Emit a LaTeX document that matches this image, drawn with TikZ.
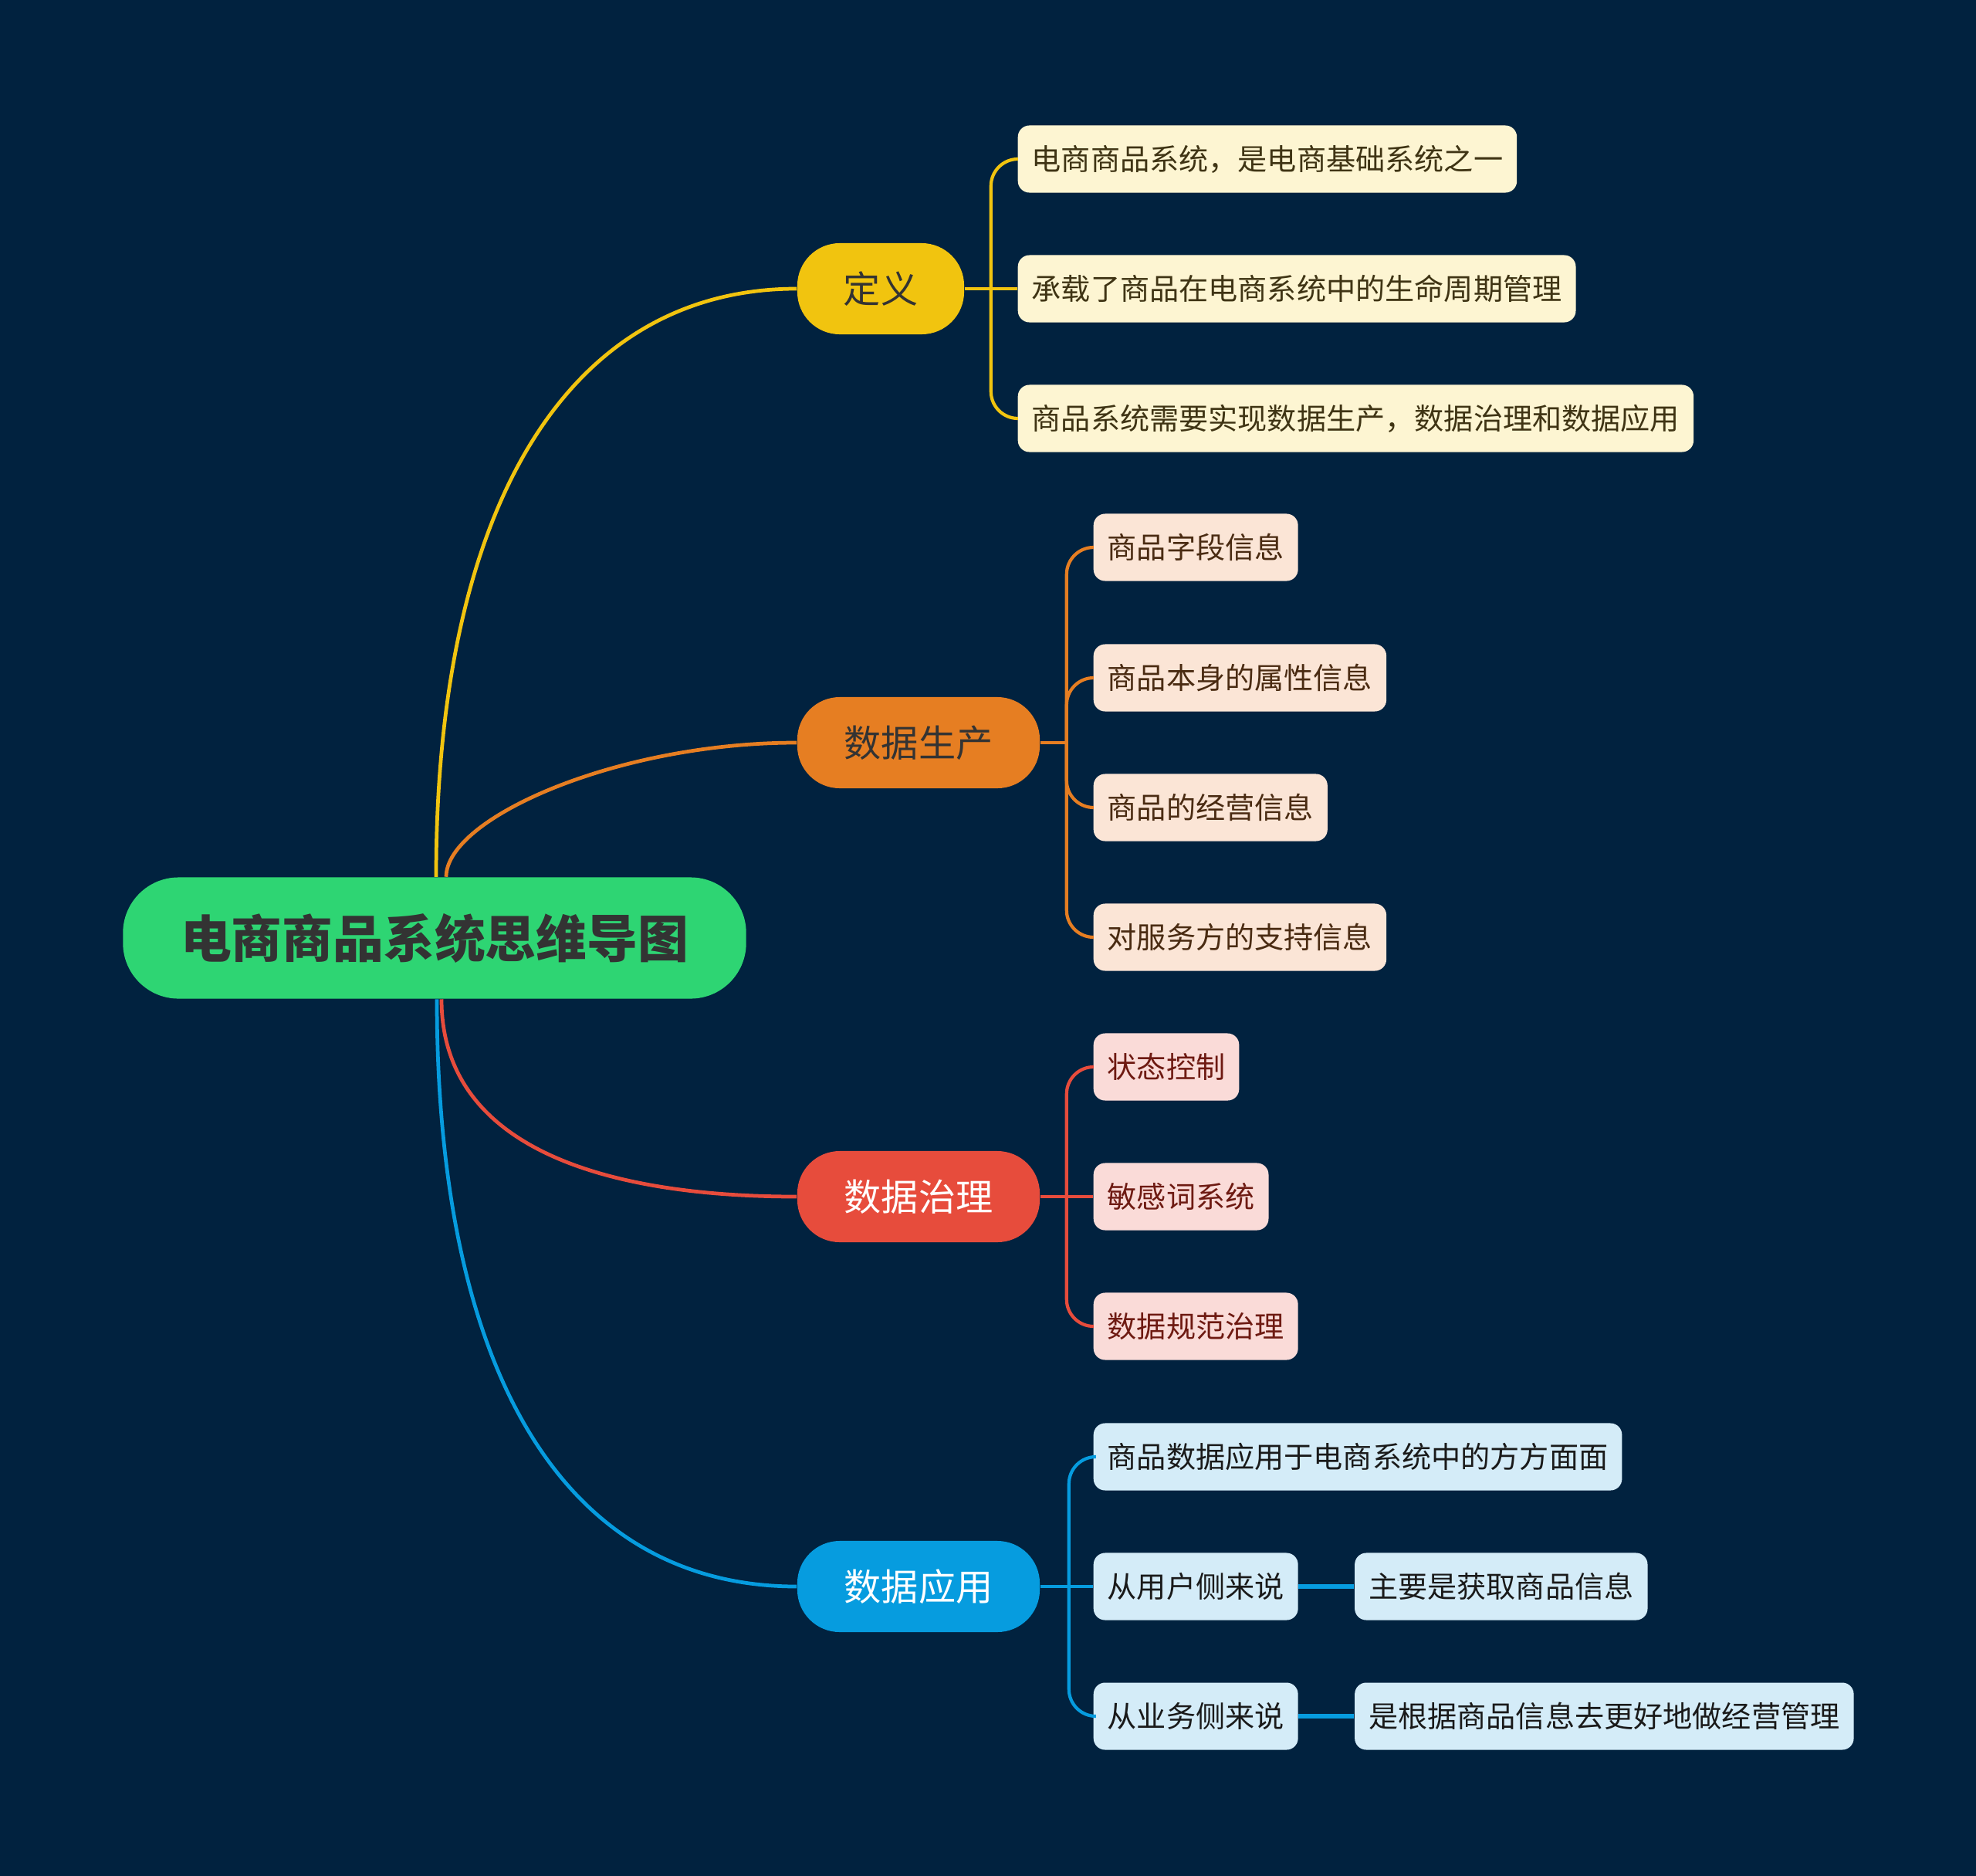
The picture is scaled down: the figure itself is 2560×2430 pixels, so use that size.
\documentclass[tikz,border=0pt]{standalone}
\usepackage{fontspec}
\setmainfont{Noto Sans CJK SC}
\usetikzlibrary{positioning}
\definecolor{bgnavy}{HTML}{01223F}
\definecolor{rootgreen}{HTML}{2ED573}
\definecolor{roottext}{HTML}{333333}
\definecolor{defyellow}{HTML}{F1C40F}
\definecolor{prodorange}{HTML}{E67E22}
\definecolor{govred}{HTML}{E74C3C}
\definecolor{appblue}{HTML}{069CDF}
\definecolor{defleaf}{HTML}{FDF5D2}
\definecolor{prodleaf}{HTML}{FBE5D6}
\definecolor{govleaf}{HTML}{FADBD8}
\definecolor{appleaf}{HTML}{D4ECF8}
\definecolor{deftext}{HTML}{3F3414}
\definecolor{prodtext}{HTML}{4A2B12}
\definecolor{govtext}{HTML}{6E1A12}
\definecolor{apptext}{HTML}{1A1A1A}
\tikzset{
  rootnode/.style={rectangle,rounded corners=0.72cm,fill=rootgreen,text=roottext,
                   minimum width=8.07cm,minimum height=1.57cm,
                   font=\fontsize{18.7pt}{22pt}\selectfont\bfseries},
  topic/.style   ={rectangle,rounded corners=0.55cm,minimum height=1.18cm,
                   font=\fontsize{13.7pt}{16pt}\selectfont},
  leaf/.style    ={rectangle,rounded corners=0.15cm,minimum height=0.87cm,
                   inner xsep=0.18cm,anchor=west,
                   font=\fontsize{10.85pt}{13pt}\selectfont},
  branch/.style  ={line width=1.35pt},
  twig/.style    ={line width=1.2pt,rounded corners=0.35cm},
  stem/.style    ={line width=1.8pt}
}

\begin{document}
\begin{tikzpicture}[x=0.01cm,y=-0.01cm]
  \fill[bgnavy] (0,0) rectangle (2560,2430);

  % Nodes
  \node (root) [rootnode] at (563,1215) {电商商品系统思维导图};

  \node (def)  [topic, fill=defyellow, text=roottext, minimum width=2.16cm] at (1141,374) {定义};
  \node (prod) [topic, fill=prodorange, text=roottext, minimum width=3.14cm] at (1190,962) {数据生产};
  \node (gov)  [topic, fill=govred, text=white, minimum width=3.14cm] at (1190,1550) {数据治理};
  \node (app)  [topic, fill=appblue, text=white, minimum width=3.14cm] at (1190,2055) {数据应用};

  \node (d1) [leaf, fill=defleaf, text=deftext] at (1318,206) {电商商品系统，是电商基础系统之一};
  \node (d2) [leaf, fill=defleaf, text=deftext] at (1318,374) {承载了商品在电商系统中的生命周期管理};
  \node (d3) [leaf, fill=defleaf, text=deftext] at (1318,542) {商品系统需要实现数据生产，数据治理和数据应用};

  \node (p1) [leaf, fill=prodleaf, text=prodtext] at (1416,709) {商品字段信息};
  \node (p2) [leaf, fill=prodleaf, text=prodtext] at (1416,878) {商品本身的属性信息};
  \node (p3) [leaf, fill=prodleaf, text=prodtext] at (1416,1046) {商品的经营信息};
  \node (p4) [leaf, fill=prodleaf, text=prodtext] at (1416,1214) {对服务方的支持信息};

  \node (g1) [leaf, fill=govleaf, text=govtext] at (1416,1382) {状态控制};
  \node (g2) [leaf, fill=govleaf, text=govtext] at (1416,1550) {敏感词系统};
  \node (g3) [leaf, fill=govleaf, text=govtext] at (1416,1718) {数据规范治理};

  \node (a1) [leaf, fill=appleaf, text=apptext] at (1416,1887) {商品数据应用于电商系统中的方方面面};
  \node (a2) [leaf, fill=appleaf, text=apptext] at (1416,2055) {从用户侧来说};
  \node (a3) [leaf, fill=appleaf, text=apptext] at (1416,2223) {从业务侧来说};
  \node (a2x) [leaf, fill=appleaf, text=apptext, right=0.72cm of a2] {主要是获取商品信息};
  \node (a3x) [leaf, fill=appleaf, text=apptext, right=0.72cm of a3] {是根据商品信息去更好地做经营管理};

  % Branches from the root
  \draw [branch, defyellow]  ([xshift=0.02cm]root.north) .. controls +(0,-486) and +(-293,0) .. (def.west);
  \draw [branch, prodorange] ([xshift=0.15cm]root.north) .. controls +(0,-76) and +(-233,0) .. (prod.west);
  \draw [branch, govred]     ([xshift=0.09cm]root.south) .. controls +(0,200) and +(-233,0) .. (gov.west);
  \draw [branch, appblue]    ([xshift=0.03cm]root.south) .. controls +(0,486) and +(-300,0) .. (app.west);

  % Hubs
  \coordinate (defhub)  at ([xshift=0.34cm]def.east);
  \coordinate (prodhub) at ([xshift=0.34cm]prod.east);
  \coordinate (govhub)  at ([xshift=0.34cm]gov.east);
  \coordinate (apphub)  at ([xshift=0.37cm]app.east);

  \draw [twig, defyellow] (def.east) -- (d2.west);
  \foreach \c in {d1,d3} \draw [twig, defyellow] (defhub) |- (\c.west);

  \draw [twig, prodorange] (prod.east) -- (prodhub);
  \foreach \c in {p1,p2,p3,p4} \draw [twig, prodorange] (prodhub) |- (\c.west);

  \draw [twig, govred] (gov.east) -- (g2.west);
  \foreach \c in {g1,g3} \draw [twig, govred] (govhub) |- (\c.west);

  \draw [twig, appblue] (app.east) -- (a2.west);
  \foreach \c in {a1,a3} \draw [twig, appblue] (apphub) |- (\c.west);

  \draw [stem, appblue] (a2.east) -- (a2x.west);
  \draw [stem, appblue] (a3.east) -- (a3x.west);
\end{tikzpicture}
\end{document}
